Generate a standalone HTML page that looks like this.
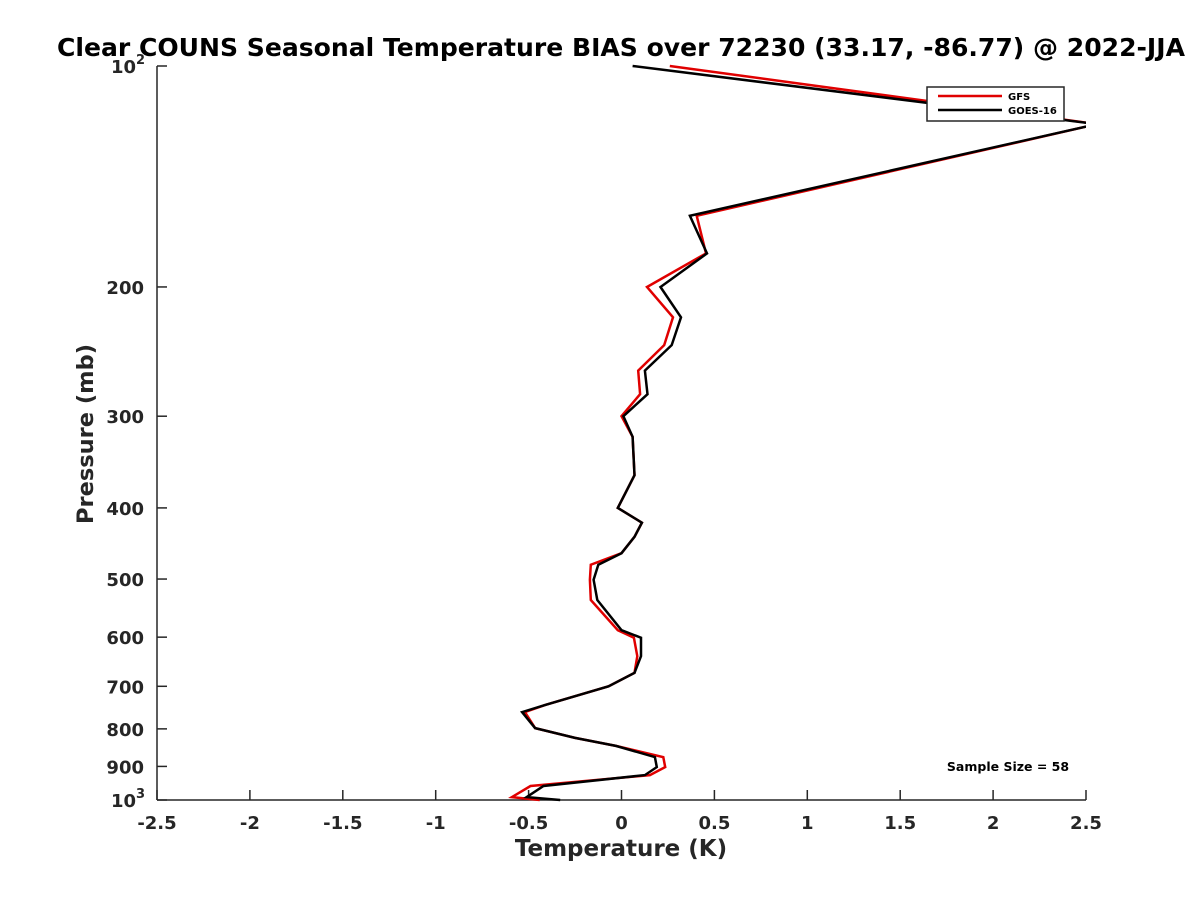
<!DOCTYPE html>
<html><head><meta charset="utf-8"><style>
body{margin:0;background:#fff;}
svg text{font-family:"DejaVu Sans","Liberation Sans",sans-serif;font-weight:bold;}
</style></head><body>
<svg width="1200" height="900" xmlns="http://www.w3.org/2000/svg" id="svg">
<rect width="1200" height="900" fill="#fff"/>
<defs><clipPath id="clip"><rect x="157" y="60" width="929" height="745"/></clipPath></defs>
<text x="621" y="56" font-size="25" text-anchor="middle" fill="#000" textLength="1128" lengthAdjust="spacingAndGlyphs">Clear COUNS Seasonal Temperature BIAS over 72230 (33.17, -86.77) @ 2022-JJA</text>
<g id="axes"></g>
<g id="series" clip-path="url(#clip)"></g>
<g>
<rect x="927" y="87" width="137" height="34" fill="#fff" stroke="#262626" stroke-width="1.5"/>
<line x1="938" y1="96" x2="1002" y2="96" stroke="#e00000" stroke-width="2.5"/>
<text x="1008" y="100" font-size="10">GFS</text>
<line x1="938" y1="110" x2="1002" y2="110" stroke="#000" stroke-width="2.5"/>
<text x="1008" y="114" font-size="10">GOES-16</text>
</g>
<text x="1008" y="771" font-size="12.5" text-anchor="middle">Sample Size = 58</text>
<text x="621" y="856" font-size="23" text-anchor="middle" fill="#262626">Temperature (K)</text>
<text x="93" y="434" font-size="22.5" text-anchor="middle" fill="#262626" transform="rotate(-90 93 434)">Pressure (mb)</text>
</svg>
<script>
const pressure=[100,120,160,180,200,220,240,260,280,300,320,361,400,419,438,461,478,501,534,587,601,637,671,700,742,759,798,823,844,874,902,925,957,991,1000];
const gfsBias=[0.26,2.56,0.405,0.455,0.137,0.277,0.23,0.09,0.10,0.0,0.06,0.07,-0.02,0.11,0.07,0.0,-0.165,-0.17,-0.165,-0.02,0.067,0.085,0.07,-0.07,-0.41,-0.52,-0.465,-0.25,-0.03,0.225,0.235,0.153,-0.49,-0.59,-0.44];
const goesBias=[0.06,2.56,0.368,0.46,0.21,0.32,0.27,0.126,0.14,0.01,0.06,0.07,-0.02,0.11,0.07,0.0,-0.125,-0.15,-0.13,0.0,0.105,0.105,0.07,-0.07,-0.41,-0.535,-0.465,-0.25,-0.03,0.18,0.19,0.126,-0.42,-0.51,-0.33];
const xTicks=[-2.5,-2,-1.5,-1,-0.5,0,0.5,1,1.5,2,2.5];
const yTicks=[100,200,300,400,500,600,700,800,900,1000];
const NS="http://www.w3.org/2000/svg";
const X=v=>157+(v+2.5)/5*929;
const Y=p=>66+Math.log10(p/100)*734;
function mk(tag,attrs,parent){const e=document.createElementNS(NS,tag);for(const k in attrs)e.setAttribute(k,attrs[k]);parent.appendChild(e);return e;}
const ax=document.getElementById('axes');
const xl=mk('line',{x1:157,y1:800,x2:1086,y2:800,stroke:'#262626','stroke-width':1.5},ax);


const yl=mk('line',{x1:157,y1:66,x2:157,y2:800,stroke:'#262626','stroke-width':1.5},ax);


xTicks.forEach(v=>{
  mk('line',{x1:X(v),y1:800,x2:X(v),y2:790,stroke:'#262626','stroke-width':1.5},ax);
  const t=mk('text',{x:X(v),y:829,'font-size':18,'text-anchor':'middle',fill:'#262626'},ax);
  
  
  t.textContent=String(v);
});
yTicks.forEach(p=>{
  mk('line',{x1:157,y1:Y(p),x2:167,y2:Y(p),stroke:'#262626','stroke-width':1.5},ax);
  const exp=(p===100||p===1000);
  const t=mk('text',{x:exp?136:144,y:Y(p)+7,'font-size':18,'text-anchor':'end',fill:'#262626'},ax);
  
  
  if(exp){
    t.textContent='10';
    const s=mk('text',{x:136,y:Y(p)-2,'font-size':13,'text-anchor':'start',fill:'#262626'},ax);
    
    
    s.textContent=p===100?'2':'3';
  } else t.textContent=String(p);
});
const sg=document.getElementById('series');
[[gfsBias,'#e00000','gfs-line'],[goesBias,'#000','goes-16-line']].forEach(([d,c,n])=>{
  const pts=d.map((v,i)=>X(v).toFixed(1)+','+Y(pressure[i]).toFixed(1)).join(' ');
  const pl=mk('polyline',{points:pts,fill:'none',stroke:c,'stroke-width':2.5,'stroke-linejoin':'miter'},sg);
  
  
});
</script>
</body></html>
